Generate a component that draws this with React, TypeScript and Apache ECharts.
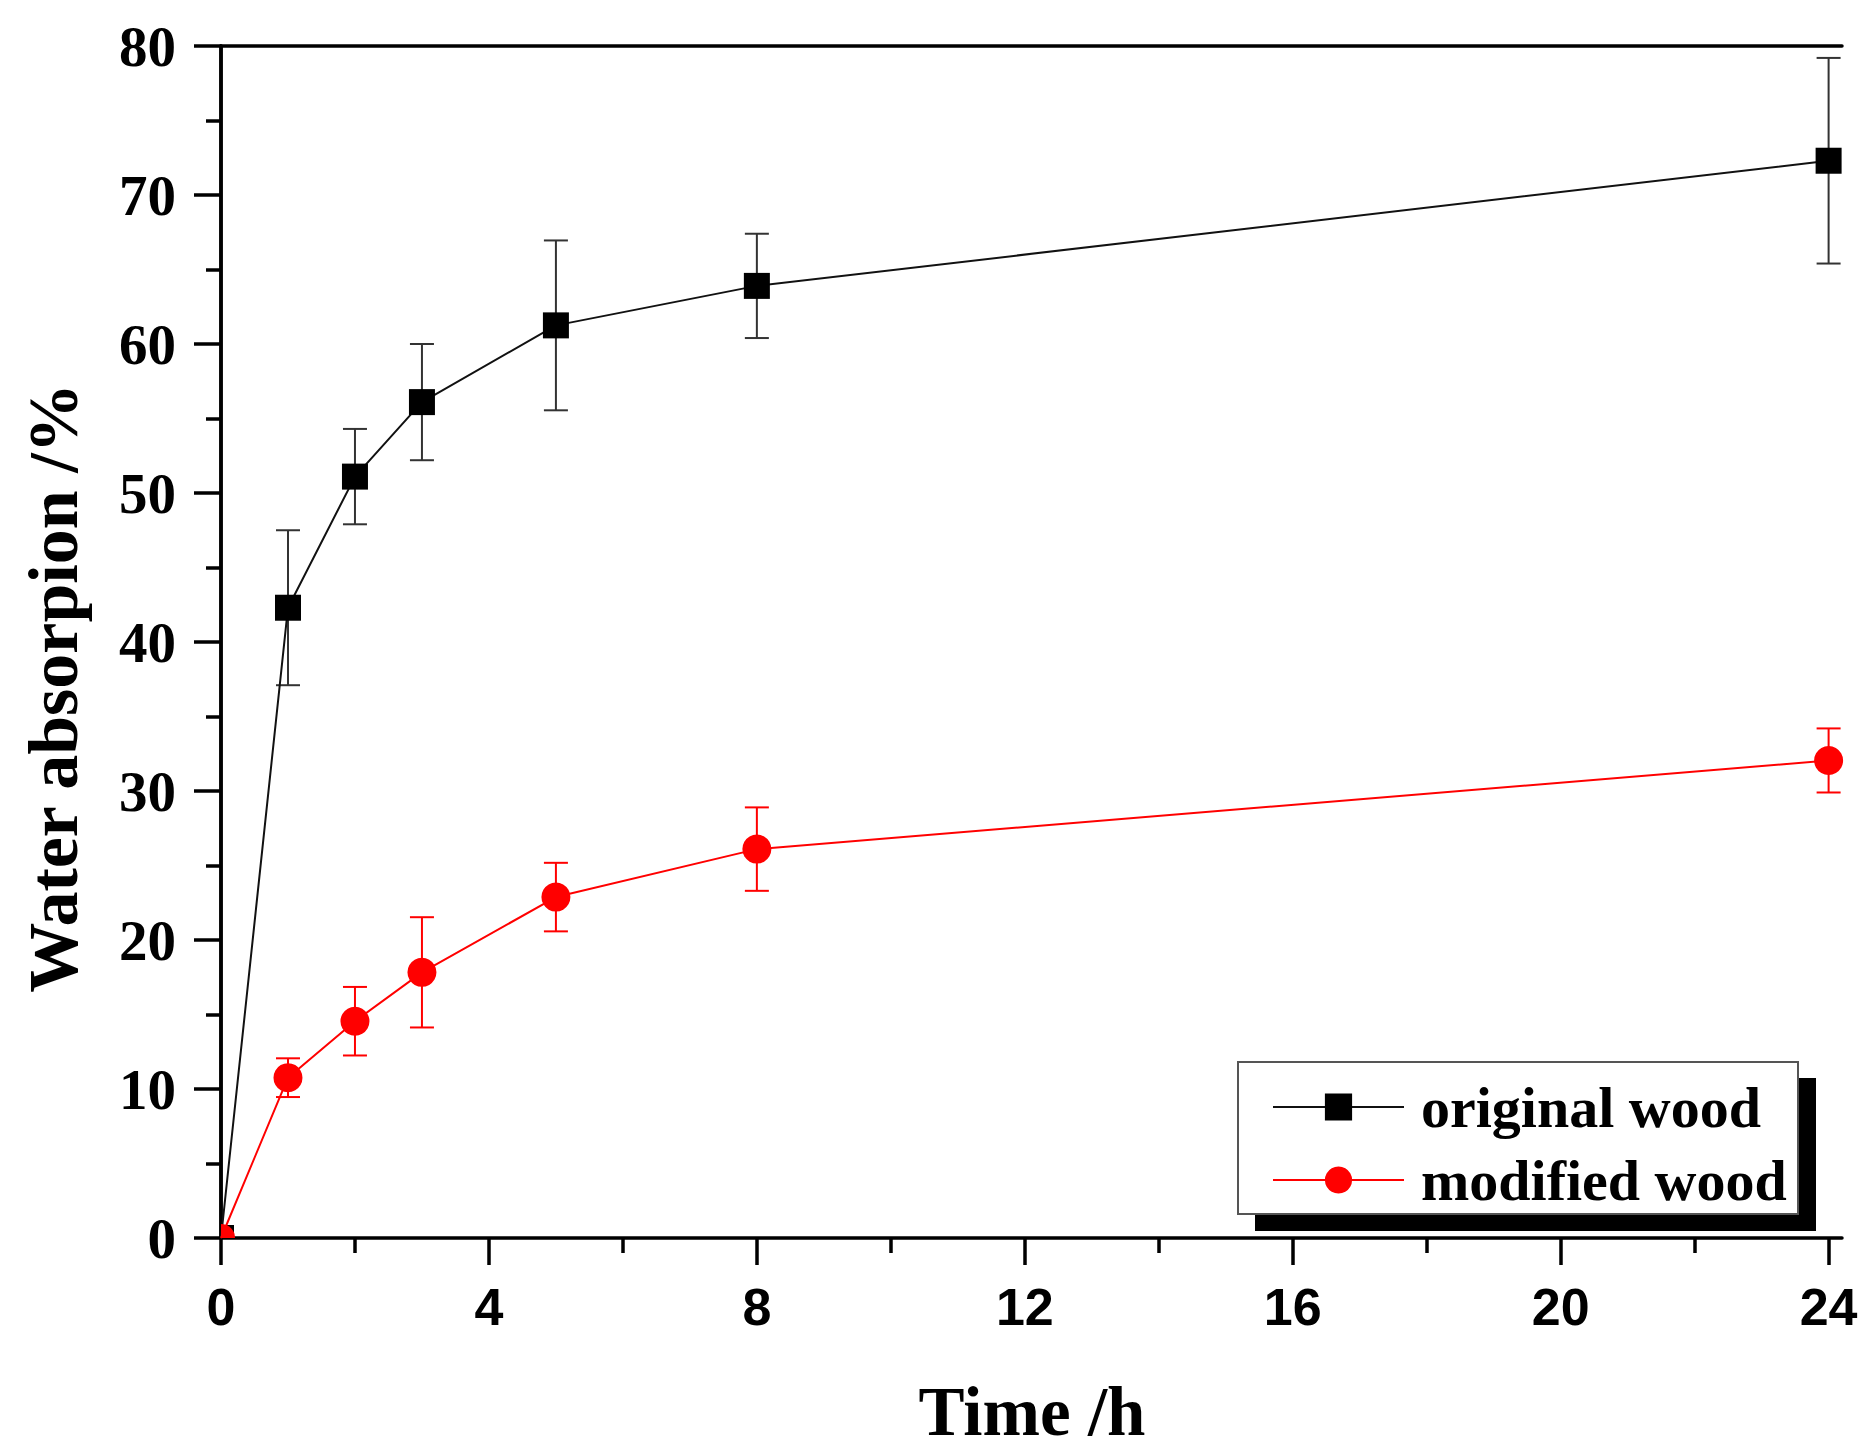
import React, { useEffect, useRef } from 'react';
import * as echarts from 'echarts';

const timeHours = [0, 1, 2, 3, 5, 8, 24];
const originalWood = [0, 42.3, 51.1, 56.1, 61.25, 63.9, 72.3];
const originalErr = [0, 5.2, 3.2, 3.9, 5.7, 3.5, 6.9];
const modifiedWood = [0, 10.76, 14.55, 17.83, 22.88, 26.1, 32.05];
const modifiedErr = [0, 1.3, 2.3, 3.7, 2.3, 2.8, 2.15];
const xMajorTicks = [0, 4, 8, 12, 16, 20, 24];
const xMinorTicks = [2, 6, 10, 14, 18, 22];
const seriesNames = ['original wood', 'modified wood'];
const xTitle = 'Time /h';
const yTitle = 'Water absorpion /%';

const SERIF = "'Liberation Serif', 'Times New Roman', serif";
const SANS = "'Liberation Sans', Arial, sans-serif";

function errorData(vals: number[], errs: number[]) {
  const out: number[][] = [];
  timeHours.forEach((t, i) => {
    if (errs[i] > 0) out.push([t, vals[i] - errs[i], vals[i] + errs[i]]);
  });
  return out;
}

function errorRender(color: string) {
  return (params: any, api: any) => {
    const x = api.value(0);
    const lo = api.value(1);
    const hi = api.value(2);
    const top = api.coord([x, hi]);
    const bot = api.coord([x, lo]);
    const hw = 12;
    const style = { stroke: color, lineWidth: 2 };
    return {
      type: 'group',
      children: [
        { type: 'line', shape: { x1: top[0], y1: top[1], x2: bot[0], y2: bot[1] }, style },
        { type: 'line', shape: { x1: top[0] - hw, y1: top[1], x2: top[0] + hw, y2: top[1] }, style },
        { type: 'line', shape: { x1: bot[0] - hw, y1: bot[1], x2: bot[0] + hw, y2: bot[1] }, style },
      ],
    };
  };
}

export default function App() {
  const ref = useRef<HTMLDivElement>(null);
  useEffect(() => {
    document.body.style.margin = '0';
    if (!ref.current) return;
    const chart = echarts.init(ref.current, undefined, { renderer: 'svg' });
    const axisLine = { show: true, lineStyle: { color: '#000', width: 3.5 } };
    const origData: any[] = timeHours.map((t, i) => [t, originalWood[i]]);
    origData[0] = { value: [0, 0], symbol: 'rect', symbolSize: 13, symbolOffset: [6.5, -6.5] };
    const modData: any[] = timeHours.map((t, i) => [t, modifiedWood[i]]);
    modData[0] = {
      value: [0, 0],
      symbol: 'path://M0,10 L0,0 A10,10 0 0,1 10,10 Z',
      symbolSize: 14,
      symbolOffset: [7, -7],
    };
    const option: any = {
      animation: false,
      backgroundColor: '#fff',
      grid: { left: 221, top: 46, right: 34, bottom: 214 },
      xAxis: [
        {
          type: 'value', min: 0, max: 24.2, position: 'bottom',
          axisLine,
          axisTick: { show: true, customValues: xMajorTicks, length: 27, lineStyle: { color: '#000', width: 3.5 } },
          axisLabel: {
            customValues: xMajorTicks, margin: 43, color: '#000',
            fontFamily: SANS, fontWeight: 'bold', fontSize: 52,
          },
          splitLine: { show: false },
        },
        {
          type: 'value', min: 0, max: 24.2, position: 'bottom',
          axisLine: { show: false },
          axisTick: { show: true, customValues: xMinorTicks, length: 15, lineStyle: { color: '#000', width: 3.5 } },
          axisLabel: { show: false },
          splitLine: { show: false },
        },
        {
          type: 'value', min: 0, max: 24.2, position: 'top',
          axisLine,
          axisTick: { show: false },
          axisLabel: { show: false },
          splitLine: { show: false },
        },
      ],
      yAxis: [
        {
          type: 'value', min: 0, max: 80, interval: 10, position: 'left',
          axisLine,
          axisTick: { show: true, length: 27, lineStyle: { color: '#000', width: 3.5 } },
          minorTick: { show: true, splitNumber: 2, length: 15, lineStyle: { color: '#000', width: 3.5 } },
          axisLabel: {
            margin: 45, color: '#000',
            fontFamily: SERIF, fontWeight: 'bold', fontSize: 57,
          },
          splitLine: { show: false },
          minorSplitLine: { show: false },
        },
        {
          type: 'value', min: 0, max: 80, position: 'right',
          axisLine,
          axisTick: { show: false },
          axisLabel: { show: false },
          splitLine: { show: false },
        },
      ],
      legend: {
        data: seriesNames,
        orient: 'vertical',
        left: 1272,
        top: 1078,
        padding: 0,
        itemWidth: 131,
        itemHeight: 34,
        itemGap: 15,
        selectedMode: false,
        textStyle: {
          color: '#000', fontFamily: SERIF, fontWeight: 'bold', fontSize: 58,
          padding: [0, 0, 0, 12],
        },
        z: 10,
      },
      graphic: [
        { type: 'rect', z: 5, shape: { x: 1255, y: 1078, width: 561, height: 153 }, style: { fill: '#000' } },
        { type: 'rect', z: 6, shape: { x: 1238, y: 1062, width: 560, height: 152 }, style: { fill: '#fff', stroke: '#555', lineWidth: 2 } },
        {
          type: 'text', z: 6, x: 53, y: 688, rotation: Math.PI / 2,
          style: { text: yTitle, fill: '#000', fontFamily: SERIF, fontWeight: 'bold', fontSize: 70, align: 'center', verticalAlign: 'middle' },
        },
        {
          type: 'text', z: 6, x: 1032, y: 1412,
          style: { text: xTitle, fill: '#000', fontFamily: SERIF, fontWeight: 'bold', fontSize: 69, align: 'center', verticalAlign: 'middle' },
        },
      ],
      series: [
        {
          type: 'custom', name: 'original error', xAxisIndex: 0, yAxisIndex: 0,
          data: errorData(originalWood, originalErr), encode: { x: 0, y: [1, 2] },
          renderItem: errorRender('#333'), z: 2,
        },
        {
          type: 'custom', name: 'modified error', xAxisIndex: 0, yAxisIndex: 0,
          data: errorData(modifiedWood, modifiedErr), encode: { x: 0, y: [1, 2] },
          renderItem: errorRender('#ff0000'), z: 2,
        },
        {
          type: 'line', name: seriesNames[0], xAxisIndex: 0, yAxisIndex: 0,
          data: origData, symbol: 'rect', symbolSize: 26, showAllSymbol: true,
          lineStyle: { color: '#111', width: 2 }, itemStyle: { color: '#000' }, z: 3,
        },
        {
          type: 'line', name: seriesNames[1], xAxisIndex: 0, yAxisIndex: 0,
          data: modData, symbol: 'circle', symbolSize: 29, showAllSymbol: true,
          lineStyle: { color: '#ff0000', width: 2 }, itemStyle: { color: '#ff0000' }, z: 4,
        },
      ],
    };
    chart.setOption(option);
    return () => chart.dispose();
  }, []);
  return <div ref={ref} style={{ width: 1876, height: 1452 }} />;
}
